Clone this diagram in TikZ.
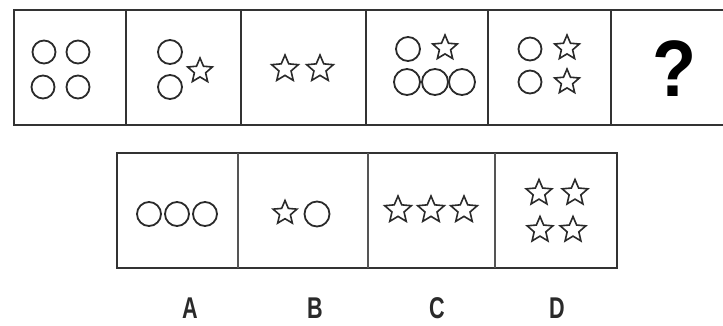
\documentclass[tikz,border=0pt]{standalone}
\usepackage{fontspec}
\setmainfont{Liberation Sans}
\usetikzlibrary{shapes.geometric}
\definecolor{ink}{HTML}{2A2A2A}
\definecolor{frame}{HTML}{333333}
\definecolor{divgray}{HTML}{555555}
\tikzset{
  circ/.style={circle, draw=ink, line width=1.8pt, inner sep=0pt, minimum size=#1},
  circ/.default=23pt,
  starshape/.style={star, star points=5, star point ratio=2.2, draw=ink, line width=1.6pt, inner sep=0pt, minimum size=#1},
  starshape/.default=26pt,
  outer/.style={draw=frame, line width=2.6pt},
  divider/.style={draw=frame, line width=1.8pt},
  thindiv/.style={draw=divgray, line width=1.3pt},
  lbl/.style={font=\fontsize{30}{32}\selectfont\bfseries, text=ink, inner sep=0pt, xscale=0.72}
}
\begin{document}
\begin{tikzpicture}[x=1pt,y=-1pt]
\useasboundingbox (0,0) rectangle (723,325);
\fill[white] (0,0) rectangle (723,325);
% top row frame
\coordinate (tl) at (14,10);
\coordinate (tr) at (724,10);
\coordinate (bl) at (14,125);
\coordinate (br) at (724,125);
\draw[outer] (tr) -- (tl) -- (bl) -- (br);
\foreach \x in {126,241,366,488,611} {
  \draw[divider] (\x,10) -- (\x,125);
}
% cell 1
\node[circ=23pt] (c1a) at (44,52) {};
\node[circ=23pt] (c1b) at (78,52) {};
\node[circ=23pt] (c1c) at (43,87) {};
\node[circ=23pt] (c1d) at (78,87) {};
% cell 2
\node[circ=24pt] (c2a) at (170,52) {};
\node[circ=24pt] (c2b) at (170,87) {};
\node[starshape=26pt] (s2a) at (200,71) {};
% cell 3
\node[starshape=28pt] (s3a) at (285,69) {};
\node[starshape=28pt] (s3b) at (320,69) {};
% cell 4
\node[circ=24pt] (c4a) at (408,49) {};
\node[starshape=26pt] (s4a) at (445,48) {};
\node[circ=26pt] (c4b) at (407,82) {};
\node[circ=26pt] (c4c) at (435,82) {};
\node[circ=26pt] (c4d) at (462,82) {};
% cell 5
\node[circ=23pt] (c5a) at (530,49) {};
\node[starshape=26pt] (s5a) at (567,48) {};
\node[circ=23pt] (c5b) at (530,82) {};
\node[starshape=26pt] (s5b) at (567,82) {};
% cell 6
\node[font=\fontsize{80}{80}\selectfont\bfseries, inner sep=0pt, xscale=0.9] (q) at (674,69) {?};
% bottom row frame
\coordinate (btl) at (117,153);
\coordinate (btr) at (617,153);
\coordinate (bbl) at (117,268);
\coordinate (bbr) at (617,268);
\draw[outer] (btl) rectangle (bbr);
\foreach \x in {238,368,495} {
  \draw[thindiv] (\x,153) -- (\x,268);
}
% option A
\node[circ=24pt] (a1) at (149,214) {};
\node[circ=24pt] (a2) at (177,214) {};
\node[circ=24pt] (a3) at (205,214) {};
% option B
\node[starshape=25pt] (b1) at (285,213) {};
\node[circ=25pt] (b2) at (317,214) {};
% option C
\node[starshape=28pt] (cc1) at (398,210) {};
\node[starshape=28pt] (cc2) at (431,210) {};
\node[starshape=28pt] (cc3) at (464,210) {};
% option D
\node[starshape=27pt] (d1) at (539,193) {};
\node[starshape=27pt] (d2) at (575,193) {};
\node[starshape=27pt] (d3) at (540,230) {};
\node[starshape=27pt] (d4) at (573,230) {};
% labels
\node[lbl] (la) at (190,308) {A};
\node[lbl] (lb) at (315,308) {B};
\node[lbl] (lc) at (437,308) {C};
\node[lbl] (ld) at (557,308) {D};
\end{tikzpicture}
\end{document}
